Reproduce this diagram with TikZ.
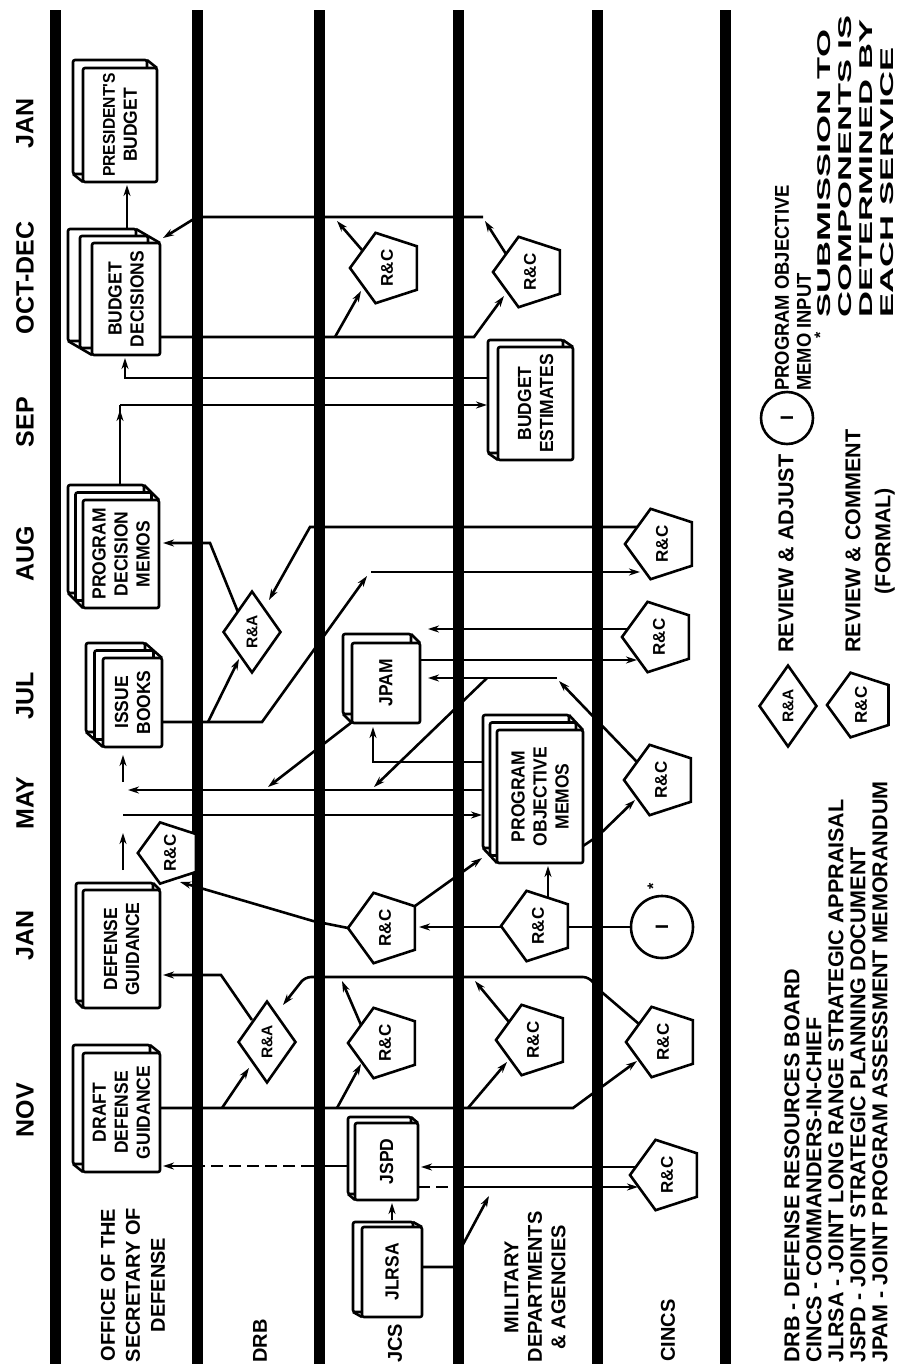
\documentclass[tikz,border=0pt]{standalone}
\usepackage{fontspec}
\setmainfont{Liberation Sans}
\newfontfamily\condf{Liberation Sans}[FakeStretch=0.92]
\newfontfamily\widef{Liberation Sans}[FakeStretch=1.95]
\usetikzlibrary{shapes.geometric, arrows.meta, calc}
\tikzset{
 sep/.style={line width=11pt},
 cn/.style={line width=2.6pt},
 arr/.style={line width=2.6pt, -{Stealth[length=11pt,width=7pt]}},
 dsh/.style={line width=2.6pt, dash pattern=on 12pt off 6pt},
 boxline/.style={line width=2.6pt, rounded corners=2pt},
 boxtext/.style={draw, line width=2.6pt, fill=white, rounded corners=2pt, rotate=90, inner sep=0pt, align=center, font=\condf\bfseries\fontsize{19}{22}\selectfont},
 rc/.style={draw, line width=2.6pt, fill=white, regular polygon, regular polygon sides=5, minimum size=74pt, inner sep=0pt, rotate=90, font=\bfseries\fontsize{17}{17}\selectfont},
 ra/.style={draw, line width=2.6pt, fill=white, diamond, minimum width=82pt, minimum height=58pt, inner sep=0pt, rotate=90, font=\bfseries\fontsize{15.5}{15.5}\selectfont},
 ci/.style={draw, line width=2.6pt, fill=white, circle, inner sep=0pt, rotate=90, font=\bfseries\fontsize{18}{18}\selectfont},
 month/.style={rotate=90, inner sep=0pt, font=\bfseries\fontsize{25}{28}\selectfont},
 rowlab/.style={rotate=90, inner sep=0pt, align=center, font=\bfseries\fontsize{20}{25}\selectfont},
 leg/.style={rotate=90, inner sep=0pt, align=left, font=\bfseries\fontsize{21.5}{22}\selectfont},
}
\newcommand{\bbox}[9]{%
 \foreach \k in {#6,...,1}{
   \draw[boxline, fill=white] ({#2-\k*#7},{#3-\k*#8}) rectangle ({#4-\k*#7},{#5-\k*#8});
   \draw[line width=2.6pt] ({#2-(\k-1)*#7},{#5-(\k-1)*#8}) -- ({#2-\k*#7},{#5-\k*#8});
   \draw[line width=2.6pt] ({#4-(\k-1)*#7},{#3-(\k-1)*#8}) -- ({#4-\k*#7},{#3-\k*#8});
 }
 \pgfmathsetmacro{\bw}{#5-#3}\pgfmathsetmacro{\bh}{#4-#2}
 \node[boxtext, minimum width=\bw pt, minimum height=\bh pt] (#1) at ({(#2+#4)/2},{(#3+#5)/2}) {#9};
}
\begin{document}
\begin{tikzpicture}[x=1pt,y=-1pt]
\useasboundingbox (0,0) rectangle (899,1371);
% swim-lane separators
\foreach \xx in {55,197,319,458,597,725}{ \draw[sep] (\xx,10) -- (\xx,1364); }

% ---------- connectors ----------
\draw[arr] (127,229) -- (127,185);
\draw[arr] (487,378) -- (125,378) -- (125,358);
\draw[cn] (120,485) -- (120,405);
\draw[arr] (120,440) -- (120,410);
\draw[arr] (120,405) -- (487,405);
\draw[arr] (160,337) -- (474,337) -- (504,296);
\draw[arr] (335,337) -- (361,291);
\draw[arr] (362,250) -- (337,221);
\draw[arr] (506,254) -- (485,221);
\draw[arr] (483,217) -- (197,217) -- (163,238);
\draw[arr] (238,612) -- (210,543) -- (163,543);
\draw[arr] (162,722) -- (262,722) -- (367,576);
\draw[arr] (371,572) -- (640,572);
\draw[arr] (208,722) -- (239,659);
\draw[arr] (639,527) -- (310,527) -- (269,600);
\draw[arr] (420,660) -- (637,660);
\draw[arr] (629,629) -- (428,629);
\draw[arr] (637,762) -- (559,681);
\draw[arr] (557,678) -- (428,678);
\draw[arr] (487,678) -- (374,787);
\draw[arr] (583,846) -- (598,836) -- (635,800);
\draw[arr] (483,762) -- (373,762) -- (373,727);
\draw[arr] (483,790) -- (128,790);
\draw[arr] (123,815) -- (482,815);
\draw[arr] (352,722) -- (268,787);
\draw[arr] (123,870) -- (123,833);
\draw[arr] (123,782) -- (123,755);
\draw[arr] (348,928) -- (313,921) -- (180,882);
\draw[arr] (415,906) -- (482,858);
\draw[cn] (631,927) -- (568,927);
\draw[arr] (501,927) -- (419,927);
\draw[arr] (548,898) -- (548,866);
\draw[arr] (160,1108) -- (573,1108) -- (637,1061);
\draw[arr] (222,1108) -- (249,1068);
\draw[arr] (337,1108) -- (361,1064);
\draw[arr] (468,1108) -- (507,1062);
\draw[arr, rounded corners=6pt] (639,1024) -- (597,988) -- (589,977) -- (305,977) -- (283,1005);
\draw[arr] (361,1025) -- (342,981);
\draw[arr] (509,1022) -- (475,981);
\draw[arr] (252,1020) -- (221,975) -- (163,975);
\draw[arr] (636,1167) -- (421,1167);
\draw[cn] (348,1166) -- (313,1166);
\draw[dsh] (313,1166) -- (200,1166);
\draw[arr] (200,1166) -- (163,1166);
\draw[dsh] (418,1187) -- (458,1187);
\draw[arr] (458,1187) -- (638,1187);
\draw[arr] (392,1220) -- (392,1203);
\draw[arr] (422,1267) -- (455,1267) -- (460,1250) -- (489,1196);

% ---------- boxes ----------
\bbox{pb}{83}{68}{157}{182}{1}{10}{8}{\fontsize{17}{22}\selectfont PRESIDENT'S\\BUDGET}
\bbox{bd}{92}{243}{160}{355}{2}{12}{7}{BUDGET\\DECISIONS}
\bbox{be}{498}{347}{573}{460}{1}{10}{7}{BUDGET\\ESTIMATES}
\bbox{pdm}{83}{500}{159}{608}{2}{7.5}{7.5}{PROGRAM\\DECISION\\MEMOS}
\bbox{ib}{103}{658}{162}{747}{2}{8.5}{7.5}{ISSUE\\BOOKS}
\bbox{jpam}{352}{643}{420}{723}{1}{9}{9}{JPAM}
\bbox{pom}{497}{730}{583}{863}{2}{7}{7.5}{PROGRAM\\OBJECTIVE\\MEMOS}
\bbox{dg}{83}{890}{160}{1008}{1}{7}{7}{DEFENSE\\GUIDANCE}
\bbox{ddg}{83}{1053}{160}{1172}{1}{10}{8}{DRAFT\\DEFENSE\\GUIDANCE}
\bbox{jspd}{355}{1123}{418}{1200}{1}{7}{6}{JSPD}
\bbox{jlrsa}{362}{1227}{422}{1317}{1}{9}{5}{JLRSA}

% ---------- review nodes ----------
\node[rc] (rcBD1) at (387,268) {R\&C};
\node[rc] (rcBD2) at (530,272) {R\&C};
\node[rc] (rcCA) at (662,544) {R\&C};
\node[rc] (rcCJ) at (659,637) {R\&C};
\node[rc] (rcCM) at (661,780) {R\&C};
\node[rc] (rcJJ) at (385,928) {R\&C};
\node[rc] (rcMJ) at (538,926) {R\&C};
\node[rc, minimum size=56pt] (rcO) at (170,853) {R\&C};
\node[rc] (rcJN) at (385,1043) {R\&C};
\node[rc] (rcMN) at (533,1040) {R\&C};
\node[rc] (rcCN) at (663,1042) {R\&C};
\node[rc] (rcCS) at (667,1175) {R\&C};
\node[ra] (raA) at (252,632) {R\&A};
\node[ra] (raJ) at (267,1042) {R\&A};
\node[ci, minimum size=62pt] (cI) at (662,927) {I};
\node[rotate=90, inner sep=0pt, font=\bfseries\fontsize{16}{16}\selectfont] (ast) at (653,886) {*};

% ---------- months ----------
\node[month] (mJanB) at (25,123) {JAN};
\node[month] (mOct) at (25,278) {OCT-DEC};
\node[month] (mSep) at (25,422) {SEP};
\node[month] (mAug) at (25,554) {AUG};
\node[month] (mJul) at (25,696) {JUL};
\node[month] (mMay) at (25,803) {MAY};
\node[month] (mJanA) at (25,935) {JAN};
\node[month] (mNov) at (25,1110) {NOV};

% ---------- row labels ----------
\node[rowlab] (lOSD) at (133,1285) {OFFICE OF THE\\SECRETARY OF\\DEFENSE};
\node[rowlab, anchor=west] (lDRB) at (260,1363) {DRB};
\node[rowlab, anchor=west] (lJCS) at (395,1363) {JCS};
\node[rowlab, font=\bfseries\fontsize{20}{23.5}\selectfont] (lMIL) at (535,1287) {MILITARY\\DEPARTMENTS\\\& AGENCIES};
\node[rowlab, anchor=west] (lCINC) at (668,1362) {CINCS};

% ---------- legend ----------
\node[leg, anchor=west] (legA) at (836,1363) {DRB - DEFENSE RESOURCES BOARD\\CINCS - COMMANDERS-IN-CHIEF\\JLRSA - JOINT LONG RANGE STRATEGIC APPRAISAL\\JSPD - JOINT STRATEGIC PLANNING DOCUMENT\\JPAM - JOINT PROGRAM ASSESSMENT MEMORANDUM};
\node[ra] (legra) at (788,706) {R\&A};
\node[leg, anchor=west] (legrat) at (786,653) {REVIEW \& ADJUST};
\node[rc, minimum size=68pt] (legrc) at (861,705) {R\&C};
\node[leg, anchor=west, align=center, font=\bfseries\fontsize{21.5}{30}\selectfont] (legrct) at (870,653) {REVIEW \& COMMENT\\(FORMAL)};
\node[ci, minimum size=52pt] (legci) at (787,418) {I};
\node[leg, anchor=west, font=\condf\bfseries\fontsize{20}{22}\selectfont] (legcit) at (793,391) {PROGRAM OBJECTIVE\\MEMO INPUT};
\node[rotate=90, inner sep=0pt, font=\bfseries\fontsize{16}{16}\selectfont] (legast) at (820,335) {*};
\node[leg, anchor=west, font=\widef\bfseries\fontsize{18.5}{21}\selectfont] (legsub) at (856,318) {SUBMISSION TO\\COMPONENTS IS\\DETERMINED BY\\EACH SERVICE};
\end{tikzpicture}
\end{document}
